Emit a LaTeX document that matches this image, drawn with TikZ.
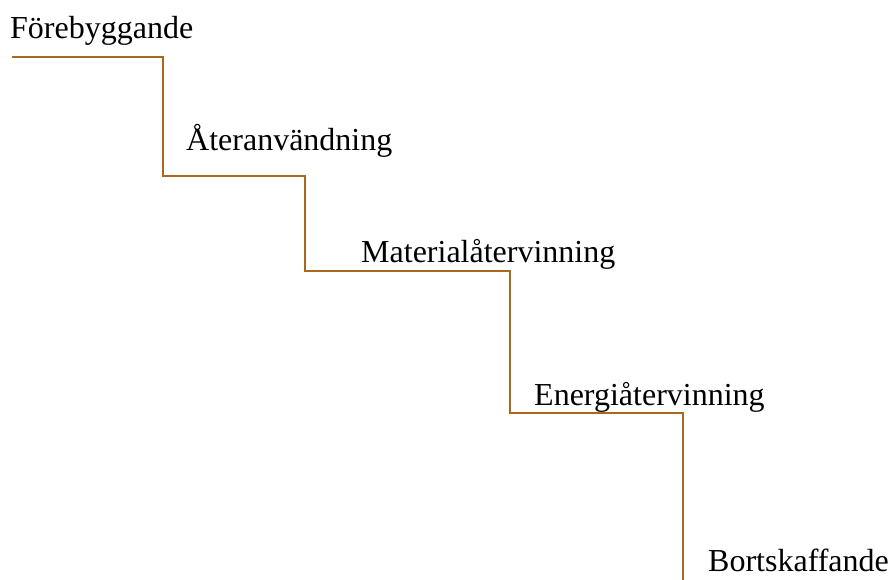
\documentclass[tikz,border=0pt]{standalone}
\usepackage{fontspec}
\setmainfont{Liberation Serif}
\definecolor{stair}{HTML}{A8681E}
\begin{document}
\begin{tikzpicture}[x=1pt,y=-1pt,
  lbl/.style={anchor=base west,inner sep=0pt,font=\fontsize{32}{38}\selectfont},
  stairline/.style={draw=stair,line width=2pt}]
\useasboundingbox (0,0) rectangle (889,579);
\node[lbl] (t1) at (10,38) {Förebyggande};
\node[lbl] (t2) at (186,150) {Återanvändning};
\node[lbl] (t3) at (361,262) {Materialåtervinning};
\node[lbl] (t4) at (534,405) {Energiåtervinning};
\node[lbl] (t5) at (708,571) {Bortskaffande};
\coordinate (p0) at (12,57);
\coordinate (p1) at (163,57);
\coordinate (p2) at (163,176);
\coordinate (p3) at (305,176);
\coordinate (p4) at (305,271);
\coordinate (p5) at (510,271);
\coordinate (p6) at (510,413);
\coordinate (p7) at (683,413);
\coordinate (p8) at (683,580);
\draw[stairline] (p0) -- (p1) -- (p2) -- (p3) -- (p4) -- (p5) -- (p6) -- (p7) -- (p8);
\end{tikzpicture}
\end{document}
